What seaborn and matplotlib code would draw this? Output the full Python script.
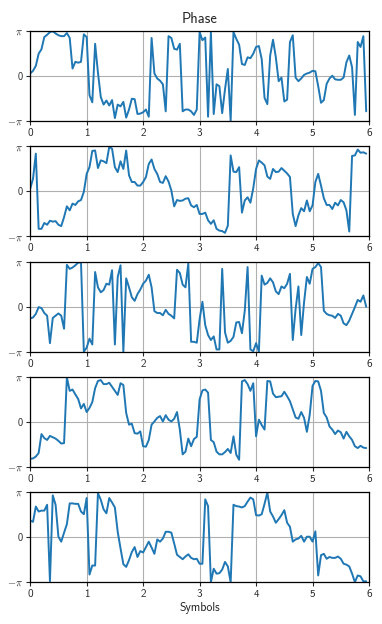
import numpy as np
import pandas as pd
import seaborn as sns
import matplotlib
matplotlib.use('Agg')
import matplotlib.pyplot as plt

# symbol times (step 0.05, 120 samples)
symbols = np.arange(120) * 0.05

# phase values, in units of pi
phase_1 = [0.06, 0.12, 0.23, 0.5, 0.6, 0.87, 0.92, 0.98, 1.0, 0.95,
           0.91, 0.89, 0.89, 0.96, 0.85, 0.17, 0.32, 0.3, 0.32, 0.93,
           0.87, -0.42, -0.58, 0.72, 0.08, -0.46, -0.63, -0.54, -0.65, -0.53,
           -0.93, -0.63, -0.67, -0.57, -0.92, -0.74, -0.5, -0.51, -0.84, -0.83,
           -0.8, -0.74, -0.9, 0.85, 0.06, -0.05, -0.1, -0.18, -0.78, 0.89,
           0.85, 0.61, 0.59, 0.72, -0.78, -0.74, -0.74, -0.78, -0.86, -0.74,
           0.98, 0.8, 0.86, -0.9, 0.98, -0.84, -0.18, -0.22, -0.82, -0.29,
           0.16, -0.99, 0.98, 0.83, 0.7, 0.27, 0.25, 0.42, 0.4, 0.5,
           0.65, 0.67, 0.38, -0.48, -0.62, 0.46, 0.81, 0.42, -0.11, -0.03,
           -0.56, -0.52, 0.76, 0.91, -0.03, -0.11, -0.05, 0.03, 0.06, 0.08,
           0.12, 0.11, -0.22, -0.59, -0.53, -0.17, -0.05, 0.01, -0.07, -0.08,
           -0.08, -0.03, 0.31, 0.46, 0.2, -0.86, 0.76, 0.65, 0.89, -0.78]

phase_2 = [0.06, 0.28, 0.84, -0.83, -0.83, -0.7, -0.74, -0.65, -0.67, -0.66,
           -0.74, -0.77, -0.57, -0.33, -0.42, -0.27, -0.3, -0.22, -0.19, -0.01,
           0.39, 0.54, 0.9, 0.91, 0.52, 0.69, 0.67, 0.63, 0.99, 0.95,
           0.54, 0.43, 0.67, 0.5, 0.91, 0.36, 0.21, 0.21, 0.13, 0.13,
           0.21, 0.32, 0.61, 0.71, 0.5, 0.39, 0.21, 0.19, 0.34, 0.22,
           0.02, -0.33, -0.19, -0.21, -0.2, -0.16, -0.15, -0.31, -0.35, -0.3,
           -0.5, -0.5, -0.47, -0.64, -0.72, -0.64, -0.83, -0.87, -0.88, -0.92,
           -0.76, 0.8, 0.44, 0.43, 0.54, -0.47, -0.2, -0.13, -0.25, 0.07,
           0.5, 0.69, 0.64, 0.58, 0.33, 0.28, 0.5, 0.43, 0.44, 0.52,
           0.46, 0.4, 0.32, -0.5, -0.77, -0.53, -0.37, -0.44, -0.2, -0.44,
           -0.31, 0.21, 0.39, 0.13, -0.15, -0.3, -0.3, -0.39, -0.25, -0.31,
           -0.19, -0.24, -0.42, -0.89, 0.79, 0.8, 0.93, 0.86, 0.87, 0.84]

phase_3 = [-0.26, -0.24, -0.16, -0.01, -0.03, -0.14, -0.2, -0.81, -0.25, -0.2,
           -0.15, -0.2, -0.49, 0.93, 0.84, 0.87, 0.92, 0.98, 0.98, -1.0,
           -0.91, -0.71, -0.84, 0.77, 0.43, 0.32, 0.37, 0.51, 0.49, 0.81,
           -0.84, 0.66, 0.92, -1.0, 0.63, 0.43, 0.21, 0.13, 0.28, 0.38,
           0.51, 0.58, 0.71, 0.43, -0.1, -0.14, -0.14, -0.19, -0.07, -0.16,
           -0.2, -0.26, 0.82, 0.75, 0.49, 0.43, 0.96, -0.78, -0.78, -0.8,
           -0.28, 0.11, -0.41, -0.63, -0.74, -0.66, -0.95, -0.95, 0.84, -0.57,
           -0.8, -0.76, -0.67, -0.35, -0.34, -0.59, -0.09, 0.88, -0.95, -0.99,
           -0.81, -1.0, 0.69, 0.49, 0.53, 0.63, 0.54, 0.34, 0.28, 0.45,
           0.41, 0.51, 0.73, -0.74, -0.05, 0.45, -0.63, 0.1, 0.66, 0.51,
           0.84, 0.88, 0.97, 0.88, -0.09, -0.16, -0.19, -0.2, -0.25, -0.16,
           -0.2, -0.37, -0.41, -0.31, -0.16, -0.01, 0.15, 0.11, 0.25, 0.0]

phase_4 = [-0.82, -0.81, -0.77, -0.69, -0.27, -0.36, -0.4, -0.31, -0.34, -0.37,
           -0.42, -0.48, -0.47, 0.99, 0.69, 0.72, 0.61, 0.51, 0.3, 0.4,
           0.22, 0.31, 0.44, 0.75, 0.91, 0.93, 0.84, 0.84, 0.87, 0.78,
           0.69, 0.6, 0.86, 0.82, 0.2, -0.06, -0.04, -0.25, -0.26, -0.21,
           -0.54, -0.55, -0.4, -0.06, 0.01, 0.09, 0.13, 0.01, 0.15, 0.05,
           0.01, 0.07, 0.22, -0.17, -0.72, -0.66, -0.37, -0.54, -0.38, -0.33,
           0.5, 0.7, 0.72, 0.65, -0.4, -0.45, -0.66, -0.72, -0.72, -0.67,
           -0.6, -0.69, -0.32, -0.73, -0.84, 0.9, 0.93, 0.84, 0.69, 0.86,
           -0.32, 0.05, -0.07, -0.17, 0.91, 0.9, 0.63, 0.55, 0.56, 0.57,
           0.67, 0.57, 0.46, 0.28, 0.1, 0.07, 0.22, 0.09, -0.22, 0.16,
           0.8, 0.91, 0.9, 0.69, 0.2, 0.1, -0.1, -0.17, -0.27, -0.19,
           -0.23, -0.37, -0.22, -0.32, -0.4, -0.54, -0.58, -0.53, -0.57, -0.58]

phase_5 = [0.37, 0.34, 0.68, 0.57, 0.59, 0.59, 0.72, -0.98, 0.93, 0.72,
           0.01, -0.1, 0.1, 0.29, 0.75, 0.75, 0.74, 0.74, 0.57, 0.51,
           0.87, -0.83, -0.63, -0.63, 0.98, 0.83, 0.62, 0.53, 0.87, 0.77,
           0.66, 0.12, -0.25, -0.6, -0.66, -0.51, -0.33, -0.22, -0.44, -0.31,
           -0.34, -0.22, -0.1, -0.23, -0.37, -0.05, -0.1, -0.03, 0.12, 0.12,
           0.1, -0.14, -0.39, -0.44, -0.49, -0.43, -0.38, -0.46, -0.49, -0.48,
           -0.59, -0.59, 0.84, 0.69, -1.0, -0.7, -0.81, -0.8, -0.72, -0.55,
           -0.65, -1.0, 0.72, 0.69, 0.68, 0.66, 0.69, 0.79, 0.88, 0.84,
           0.49, 0.48, 0.51, 0.74, 0.99, 0.57, 0.46, 0.32, 0.4, 0.49,
           0.6, 0.32, 0.23, -0.1, -0.05, -0.03, 0.03, -0.1, 0.01, 0.01,
           -0.1, 0.13, -0.85, -0.4, -0.37, -0.48, -0.44, -0.46, -0.46, -0.43,
           -0.48, -0.59, -0.61, -0.65, -0.81, -1.0, -0.85, -0.87, -0.98, -0.98]

series = [phase_1, phase_2, phase_3, phase_4, phase_5]

sns.set_theme(style='ticks')
plt.rcParams['font.family'] = ['cmss10', 'DejaVu Sans']
plt.rcParams['mathtext.fontset'] = 'cm'
plt.rcParams['axes.unicode_minus'] = False

fig, axes = plt.subplots(5, 1, figsize=(3.82, 6.24), dpi=100)
fig.subplots_adjust(left=0.079, right=0.966, top=0.950, bottom=0.067, hspace=0.28)

for ax, vals in zip(axes, series):
    df = pd.DataFrame({'x': symbols, 'y': np.array(vals) * np.pi})
    sns.lineplot(data=df, x='x', y='y', ax=ax, color='#1f77b4', linewidth=1.4)
    ax.set_xlim(0, 6)
    ax.set_ylim(-np.pi, np.pi)
    ax.set_yticks([-np.pi, 0, np.pi])
    ax.set_yticklabels([r'$-\pi$', '0', r'$\pi$'])
    ax.set_xticks(range(7))
    ax.set_xticklabels([str(i) for i in range(7)])
    ax.grid(True, color='#b0b0b0', linewidth=0.8)
    ax.tick_params(axis='x', labelsize=8, length=3, width=0.8, pad=2)
    ax.tick_params(axis='y', labelsize=7.5, length=3, width=0.8, pad=2)
    ax.set_xlabel('')
    ax.set_ylabel('')
    for s in ax.spines.values():
        s.set_linewidth(0.9)
        s.set_color('black')

axes[0].set_title('Phase', fontsize=10.5, pad=6)
axes[-1].set_xlabel('Symbols', fontsize=8.5, labelpad=2)

fig.savefig('out.png', dpi=100)
